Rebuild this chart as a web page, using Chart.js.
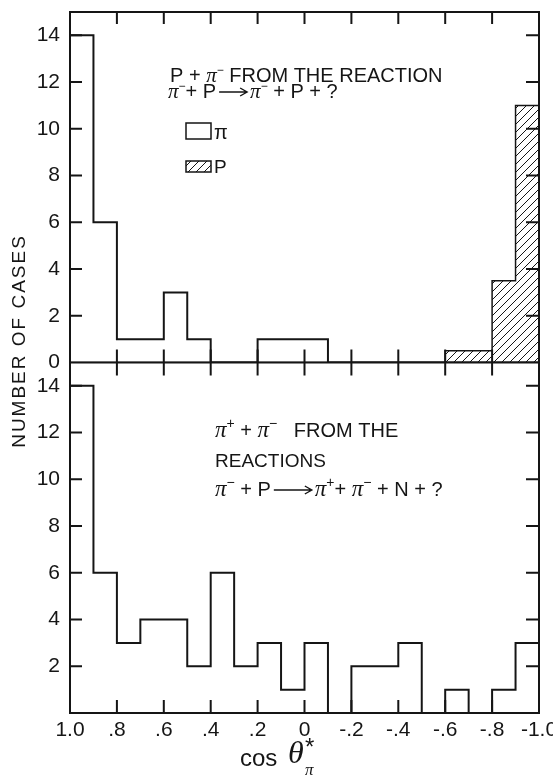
<!DOCTYPE html>
<html>
<head>
<meta charset="utf-8">
<script src="https://cdn.jsdelivr.net/npm/chart.js@4.4.1/dist/chart.umd.min.js"></script>
<style>
  html, body { margin: 0; padding: 0; background: #fff; }
  #wrap { width: 553px; height: 776px; }
</style>
</head>
<body>
<div id="wrap"><canvas id="chart" width="553" height="776"></canvas></div>
<script>
// bins run from cos = 1.0 down to -1.0, each 0.1 wide
const binStart = 1.0;
const binWidth = 0.1;

// top panel: P + pi- from pi- + P -> pi- + P + ?
const piTop = [14, 6, 1, 1, 3, 1, 0, 0, 1, 1, 1, 0, 0, 0, 0, 0, 0, 0, 0, 0];
const pTop  = [0, 0, 0, 0, 0, 0, 0, 0, 0, 0, 0, 0, 0, 0, 0, 0, 0.5, 0.5, 3.5, 11];

// bottom panel: pi+ + pi- from pi- + P -> pi+ + pi- + N + ?
const piBot = [14, 6, 3, 4, 4, 2, 6, 2, 3, 1, 3, 0, 2, 2, 3, 0, 1, 0, 1, 3];

const xTicks = [1.0, 0.8, 0.6, 0.4, 0.2, 0, -0.2, -0.4, -0.6, -0.8, -1.0];
const xTickLabels = ["1.0", ".8", ".6", ".4", ".2", "0", "-.2", "-.4", "-.6", "-.8", "-1.0"];
const yTicks = [0, 2, 4, 6, 8, 10, 12, 14];

const ink = "#151515";
const sans = '"Liberation Sans", Arial, sans-serif';
const serif = '"Liberation Serif", "DejaVu Serif", serif';

// step outline of a histogram, as points for a stepped line
function steps(vals) {
  const pts = [{ x: binStart, y: 0 }];
  vals.forEach((v, i) => pts.push({ x: binStart - i * binWidth, y: v }));
  const end = binStart - vals.length * binWidth;
  pts.push({ x: end, y: vals[vals.length - 1] });
  pts.push({ x: end, y: 0 });
  return pts;
}

function hatch() {
  const c = document.createElement("canvas");
  c.width = 8; c.height = 8;
  const g = c.getContext("2d");
  g.strokeStyle = ink; g.lineWidth = 1;
  g.beginPath();
  g.moveTo(0, 8); g.lineTo(8, 0);
  g.moveTo(-2, 2); g.lineTo(2, -2);
  g.moveTo(6, 10); g.lineTo(10, 6);
  g.stroke();
  return g.createPattern(c, "repeat");
}
const hatchFill = hatch();

// draws text pieces one after another; dy shifts superscripts, arrow draws a long arrow
function rich(ctx, x, y, parts) {
  ctx.textAlign = "left";
  ctx.textBaseline = "alphabetic";
  for (const p of parts) {
    if (p.arrow) {
      const ay = y - 6;
      x += 3;
      ctx.save();
      ctx.lineWidth = 1.4;
      ctx.strokeStyle = ink;
      ctx.beginPath();
      ctx.moveTo(x, ay); ctx.lineTo(x + p.arrow, ay);
      ctx.moveTo(x + p.arrow - 7, ay - 4); ctx.lineTo(x + p.arrow, ay); ctx.lineTo(x + p.arrow - 7, ay + 4);
      ctx.stroke();
      ctx.restore();
      x += p.arrow + 3;
      continue;
    }
    ctx.font = p.f;
    ctx.fillText(p.t, x, y + (p.dy || 0));
    x += ctx.measureText(p.t).width + (p.gap || 0);
  }
}

const framePlugin = {
  id: "frame",
  beforeDraw(chart) {
    const ctx = chart.ctx;
    ctx.save();
    ctx.fillStyle = "#fff";
    ctx.fillRect(0, 0, chart.width, chart.height);
    ctx.restore();
  },
  afterDatasetsDraw(chart) {
    const { ctx, chartArea: a, scales } = chart;
    const xs = scales.x, yt = scales.yTop, yb = scales.yBot;
    const mid = yt.getPixelForValue(0);
    const seg = (x1, y1, x2, y2) => { ctx.moveTo(x1, y1); ctx.lineTo(x2, y2); };

    ctx.save();
    ctx.strokeStyle = ink;
    ctx.lineWidth = 2;
    ctx.beginPath();
    ctx.rect(a.left, a.top, a.width, a.height);
    seg(a.left, mid, a.right, mid);
    for (const v of yTicks) {
      if (v === 0) continue;
      for (const py of [yt.getPixelForValue(v), yb.getPixelForValue(v)]) {
        seg(a.left, py, a.left + 12, py);
        seg(a.right - 13, py, a.right, py);
      }
    }
    for (const v of xTicks) {
      if (Math.abs(v) === 1) continue;
      const px = xs.getPixelForValue(v);
      seg(px, a.top, px, a.top + 12);
      seg(px, mid - 13, px, mid + 13);
      seg(px, a.bottom - 13, px, a.bottom);
    }
    ctx.stroke();

    // legend boxes in the top panel
    ctx.lineWidth = 1.5;
    ctx.strokeRect(186, 123, 25, 16);
    ctx.fillStyle = hatchFill;
    ctx.fillRect(186, 161, 25, 11);
    ctx.strokeRect(186, 161, 25, 11);

    ctx.fillStyle = ink;
    const f1 = "20px " + sans, pi1 = "italic 21px " + serif, sup = "12px " + sans;
    rich(ctx, 170, 82, [
      { t: "P + ", f: f1 }, { t: "π", f: pi1 }, { t: "−", f: sup, dy: -8 },
      { t: " FROM THE REACTION", f: f1 }
    ]);
    rich(ctx, 168, 98, [
      { t: "π", f: pi1 }, { t: "−", f: sup, dy: -8 }, { t: "+ P", f: f1 },
      { arrow: 28 }, { t: "π", f: pi1 }, { t: "−", f: sup, dy: -8 },
      { t: " + P + ?", f: f1 }
    ]);
    rich(ctx, 214, 139, [{ t: "π", f: "20px " + sans }]);
    rich(ctx, 214, 173, [{ t: "P", f: "19px " + sans }]);

    const f2 = "20px " + sans, pi2 = "italic 23px " + serif, sup2 = "14px " + sans;
    rich(ctx, 215, 437, [
      { t: "π", f: pi2 }, { t: "+", f: sup2, dy: -9 }, { t: " + ", f: f2 },
      { t: "π", f: pi2 }, { t: "−", f: sup2, dy: -9 }, { t: "   FROM THE", f: f2 }
    ]);
    rich(ctx, 215, 467, [{ t: "REACTIONS", f: "19px " + sans }]);
    rich(ctx, 215, 496, [
      { t: "π", f: pi2 }, { t: "−", f: sup2, dy: -9 }, { t: " + P", f: f2 },
      { arrow: 38 }, { t: "π", f: pi2 }, { t: "+", f: sup2, dy: -9 },
      { t: "+ ", f: f2 }, { t: "π", f: pi2 }, { t: "−", f: sup2, dy: -9 },
      { t: " + N + ?", f: f2 }
    ]);

    // axis titles
    rich(ctx, 240, 766, [{ t: "cos", f: "24px " + sans }]);
    rich(ctx, 288, 763, [{ t: "θ", f: "italic 32px " + serif }]);
    rich(ctx, 305, 755, [{ t: "*", f: "24px " + sans }]);
    rich(ctx, 305, 775, [{ t: "π", f: "italic 17px " + serif }]);

    ctx.save();
    ctx.translate(20, 341);
    ctx.rotate(-Math.PI / 2);
    ctx.font = "19px " + sans;
    ctx.letterSpacing = "2px";
    ctx.textAlign = "center";
    ctx.textBaseline = "middle";
    ctx.fillText("NUMBER OF CASES", 0, 0);
    ctx.restore();

    ctx.restore();
  }
};

function yScale(showZero) {
  return {
    type: "linear",
    position: "left",
    stack: "panels",
    stackWeight: 1,
    min: 0,
    max: 15,
    grid: { display: false, drawTicks: false },
    border: { display: false },
    afterBuildTicks: s => { s.ticks = yTicks.map(v => ({ value: v })); },
    afterFit: s => { s.width = 70; s.paddingTop = 0; s.paddingBottom = 0; },
    ticks: {
      padding: 10,
      color: ink,
      autoSkip: false,
      font: { family: sans, size: 21 },
      callback: v => (v === 0 && !showZero) ? null : String(v)
    }
  };
}

const line = (data, yAxisID, extra) => Object.assign({
  data: steps(data),
  yAxisID,
  xAxisID: "x",
  stepped: true,
  borderColor: ink,
  borderWidth: 2,
  pointRadius: 0,
  fill: false
}, extra);

new Chart(document.getElementById("chart"), {
  type: "line",
  data: {
    datasets: [
      line(pTop, "yTop", { fill: "origin", backgroundColor: hatchFill, borderWidth: 1.5 }),
      line(piTop, "yTop"),
      line(piBot, "yBot")
    ]
  },
  options: {
    responsive: false,
    animation: false,
    devicePixelRatio: 1,
    layout: { autoPadding: false, padding: { top: 12, right: 14, left: 0, bottom: 0 } },
    plugins: { legend: { display: false }, tooltip: { enabled: false } },
    scales: {
      x: {
        type: "linear",
        position: "bottom",
        min: -1,
        max: 1,
        reverse: true,
        grid: { display: false, drawTicks: false },
        border: { display: false },
        afterBuildTicks: s => { s.ticks = xTicks.map(v => ({ value: v })); },
        afterFit: s => { s.height = 63; s.paddingLeft = 0; s.paddingRight = 0; },
        ticks: {
          padding: 5,
          color: ink,
          maxRotation: 0,
          autoSkip: false,
          font: { family: sans, size: 21 },
          callback: v => xTickLabels[xTicks.findIndex(t => Math.abs(t - v) < 1e-6)]
        }
      },
      // declared bottom first: stacked left axes are laid out last-declared on top
      yBot: yScale(false),
      yTop: yScale(true)
    }
  },
  plugins: [framePlugin]
});
</script>
</body>
</html>
